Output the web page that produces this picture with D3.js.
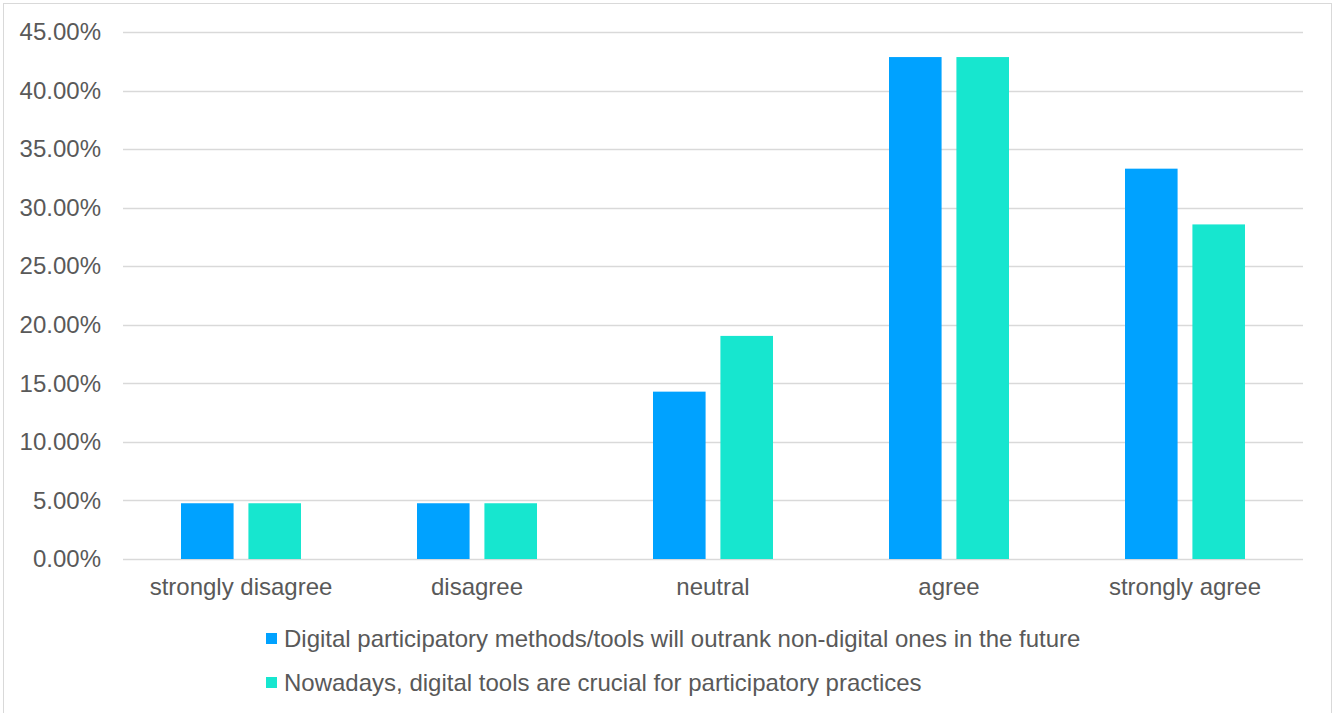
<!DOCTYPE html>
<html>
<head>
<meta charset="utf-8">
<script src="https://cdn.jsdelivr.net/npm/d3@7"></script>
<style>
  body { margin: 0; background: #fff; }
  text { font-family: "Liberation Sans", Arial, sans-serif; fill: #595959; }
</style>
</head>
<body>
<div id="wrapper"></div>
<script>
const categories = ["strongly disagree", "disagree", "neutral", "agree", "strongly agree"];
const seriesNames = [
    "Digital participatory methods/tools will outrank non-digital ones in the future",
    "Nowadays, digital tools are crucial for participatory practices"
];
const outrankValues = [0.0476, 0.0476, 0.1429, 0.4286, 0.3333];
const crucialValues = [0.0476, 0.0476, 0.1905, 0.4286, 0.2857];
const yTicks = [0, 0.05, 0.10, 0.15, 0.20, 0.25, 0.30, 0.35, 0.40, 0.45];
const colors = ["#00A2FF", "#17E6CF"];

function drawBarChart() {
    let dimensions = {
        width: 1341,
        height: 713,
        margin: { top: 32, right: 38, bottom: 154, left: 123 },
    }
    dimensions.boundedWidth = dimensions.width - dimensions.margin.left - dimensions.margin.right;
    dimensions.boundedHeight = dimensions.height - dimensions.margin.top - dimensions.margin.bottom;

    const data = categories.map((c, i) => ({ category: c, values: [outrankValues[i], crucialValues[i]] }));

    const root = d3.select("#wrapper")
        .append("svg")
        .attr("width", dimensions.width)
        .attr("height", dimensions.height);

    // chart frame
    root.append("rect")
        .attr("x", 3.5).attr("y", 3.5)
        .attr("width", 1328).attr("height", 720)
        .attr("fill", "none")
        .attr("stroke", "#d9d9d9")
        .attr("stroke-width", 1);

    const svg = root.append("g")
        .attr("transform", `translate(${dimensions.margin.left},${dimensions.margin.top})`);

    const xScale = d3.scaleBand()
        .domain(categories)
        .range([0, dimensions.boundedWidth]);

    const innerScale = d3.scaleBand()
        .domain([0, 1])
        .range([58, 178])
        .paddingInner(0.22);

    const yScale = d3.scaleLinear()
        .domain([0, 0.45])
        .range([dimensions.boundedHeight, 0]);

    // gridlines
    svg.append("g")
        .selectAll("line")
        .data(yTicks)
        .join("line")
        .attr("x1", 0)
        .attr("x2", dimensions.boundedWidth)
        .attr("y1", d => Math.round(yScale(d)) + 0.5)
        .attr("y2", d => Math.round(yScale(d)) + 0.5)
        .attr("stroke", "#d9d9d9")
        .attr("stroke-width", 1.5);

    // y axis labels
    const yAxis = svg.append("g")
        .call(d3.axisLeft(yScale).tickValues(yTicks).tickFormat(d => (d * 100).toFixed(2) + "%").tickSize(0).tickPadding(22));
    yAxis.select(".domain").remove();
    yAxis.selectAll("text").style("font-size", "24px").attr("fill", "#595959");

    // bars
    svg.append("g")
        .selectAll("g")
        .data(data)
        .join("g")
        .attr("transform", d => `translate(${xScale(d.category)},0)`)
        .selectAll("rect")
        .data(d => d.values.map((v, i) => ({ v, i })))
        .join("rect")
        .attr("x", d => innerScale(d.i))
        .attr("width", innerScale.bandwidth())
        .attr("y", d => yScale(d.v))
        .attr("height", d => dimensions.boundedHeight - yScale(d.v))
        .attr("fill", d => colors[d.i]);

    // x axis labels
    const xAxis = svg.append("g")
        .attr("transform", `translate(0,${dimensions.boundedHeight})`)
        .call(d3.axisBottom(xScale).tickSize(0).tickPadding(19));
    xAxis.select(".domain").remove();
    xAxis.selectAll("text").style("font-size", "24px").attr("fill", "#595959");

    // legend
    const legend = root.append("g")
        .selectAll("g")
        .data(seriesNames)
        .join("g")
        .attr("transform", (d, i) => `translate(266,${633 + i * 44})`);
    legend.append("rect")
        .attr("width", 11).attr("height", 11)
        .attr("fill", (d, i) => colors[i]);
    legend.append("text")
        .attr("x", 18)
        .attr("y", 14)
        .style("font-size", "24px")
        .text(d => d);
}

drawBarChart();
</script>
</body>
</html>
